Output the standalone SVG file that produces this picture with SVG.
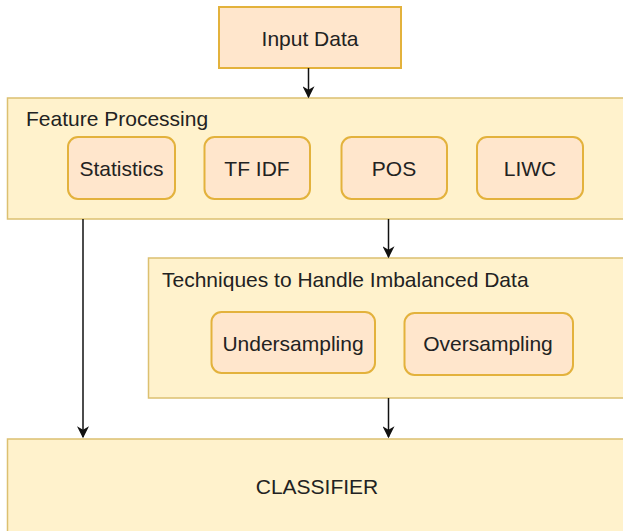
<svg xmlns="http://www.w3.org/2000/svg" width="623" height="531" viewBox="0 0 623 531">
<defs>
<style>
.container{fill:#fff2cc;stroke:#dcc070;stroke-width:1.5}
.box{fill:#ffe6cc;stroke:#e3b23c;stroke-width:2}
.t{font-family:"Liberation Sans",Arial,sans-serif;font-size:21px;fill:#222}
.mid{text-anchor:middle;dominant-baseline:central}
.edge{stroke:#111;stroke-width:1.5;fill:none}
</style>
<marker id="arr" viewBox="0 0 10 10" refX="9" refY="5" markerWidth="9" markerHeight="8" markerUnits="strokeWidth" orient="auto">
<path d="M0,0 L10,5 L0,10 L3,5 z" fill="#111"/>
</marker>
</defs>
<rect width="623" height="531" fill="#ffffff"/>
<g id="input-data">
<rect class="box" x="219" y="7" width="182" height="61"/>
<text class="t mid" x="310" y="38">Input Data</text>
</g>
<g id="feature-processing">
<rect class="container" x="7.5" y="98" width="640" height="121"/>
<text class="t" x="26" y="118" dominant-baseline="central">Feature Processing</text>
</g>
<g id="statistics">
<rect class="box" x="68" y="137" width="107" height="62" rx="10"/>
<text class="t mid" x="121.5" y="168">Statistics</text>
</g>
<g id="tf-idf">
<rect class="box" x="204.5" y="137" width="105.5" height="62" rx="10"/>
<text class="t mid" x="257" y="168">TF IDF</text>
</g>
<g id="pos">
<rect class="box" x="341.5" y="137" width="105.5" height="62" rx="10"/>
<text class="t mid" x="394" y="168">POS</text>
</g>
<g id="liwc">
<rect class="box" x="477" y="137" width="106" height="62" rx="10"/>
<text class="t mid" x="530" y="168">LIWC</text>
</g>
<g id="techniques">
<rect class="container" x="148.5" y="258" width="500" height="140"/>
<text class="t" x="162" y="279" dominant-baseline="central">Techniques to Handle Imbalanced Data</text>
</g>
<g id="undersampling">
<rect class="box" x="211.5" y="312" width="163.5" height="61" rx="10"/>
<text class="t mid" x="293" y="343">Undersampling</text>
</g>
<g id="oversampling">
<rect class="box" x="404.5" y="313" width="168.5" height="62" rx="10"/>
<text class="t mid" x="488" y="343">Oversampling</text>
</g>
<g id="classifier">
<rect class="container" x="7.5" y="439" width="640" height="100"/>
<text class="t mid" x="317" y="486">CLASSIFIER</text>
</g>
<g id="connectors">
<line class="edge" x1="308.5" y1="68" x2="308.5" y2="97" marker-end="url(#arr)"/>
<line class="edge" x1="83" y1="219" x2="83" y2="437" marker-end="url(#arr)"/>
<line class="edge" x1="388.5" y1="219" x2="388.5" y2="257" marker-end="url(#arr)"/>
<line class="edge" x1="388.5" y1="398" x2="388.5" y2="437" marker-end="url(#arr)"/>
</g>
</svg>
